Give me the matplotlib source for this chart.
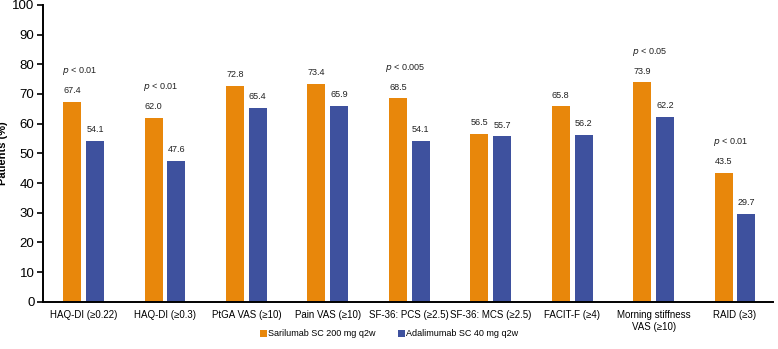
import matplotlib.pyplot as plt
import numpy as np

plt.rcParams['font.family'] = ['Liberation Sans', 'DejaVu Sans']

categories = ['HAQ-DI (≥0.22)', 'HAQ-DI (≥0.3)', 'PtGA VAS (≥10)', 'Pain VAS (≥10)',
              'SF-36: PCS (≥2.5)', 'SF-36: MCS (≥2.5)', 'FACIT-F (≥4)',
              'Morning stiffness\nVAS (≥10)', 'RAID (≥3)']
sarilumab = [67.4, 62.0, 72.8, 73.4, 68.5, 56.5, 65.8, 73.9, 43.5]
adalimumab = [54.1, 47.6, 65.4, 65.9, 54.1, 55.7, 56.2, 62.2, 29.7]
pvalues = ['< 0.01', '< 0.01', None, None, '< 0.005', None, None, '< 0.05', '< 0.01']

orange = '#E8870B'
blue = '#3E519E'

fig = plt.figure(figsize=(7.78, 3.49), dpi=100)
ax = fig.add_axes([0.055, 0.135, 0.939, 0.851])

x = np.arange(len(categories))
w = 0.22
off = 0.14
b1 = ax.bar(x - off, sarilumab, w, color=orange, label='Sarilumab SC 200 mg q2w')
b2 = ax.bar(x + off, adalimumab, w, color=blue, label='Adalimumab SC 40 mg q2w')

for xi, v in zip(x, sarilumab):
    ax.text(xi - off, v + 2.3, f'{v:.1f}', ha='center', va='bottom', fontsize=6.5, color='#222222')
for xi, v in zip(x, adalimumab):
    ax.text(xi + off, v + 2.3, f'{v:.1f}', ha='center', va='bottom', fontsize=6.5, color='#222222')

# p-Werte über der Gruppe
for xi, p, v in zip(x, pvalues, sarilumab):
    if p:
        ax.text(xi - 0.05, v + 8.3, r'$\it{p}$ ' + p, ha='center', va='bottom', fontsize=6.5, color='#222222')

ax.set_xlim(-0.5, 8.47)
ax.set_ylim(0, 100)
ax.set_yticks(range(0, 101, 10))
ax.set_xticks(x)
ax.set_xticklabels(categories, fontsize=7)
ax.tick_params(axis='y', labelsize=9.5, width=1.2, length=4, pad=2)
ax.tick_params(axis='x', length=0, pad=6)
ax.set_ylabel('Patients (%)', fontsize=8, fontweight='bold')
ax.yaxis.set_label_coords(-0.047, 0.5)
for s in ['top', 'right']:
    ax.spines[s].set_visible(False)
for s in ['left', 'bottom']:
    ax.spines[s].set_linewidth(1.4)

fig.legend(handles=[b1, b2], loc='center', bbox_to_anchor=(0.5, 0.043), ncol=2,
           frameon=False, fontsize=6.5, handlelength=0.8, handleheight=0.8,
           handletextpad=0.1, columnspacing=2.5)

fig.savefig('out.png', dpi=100)
